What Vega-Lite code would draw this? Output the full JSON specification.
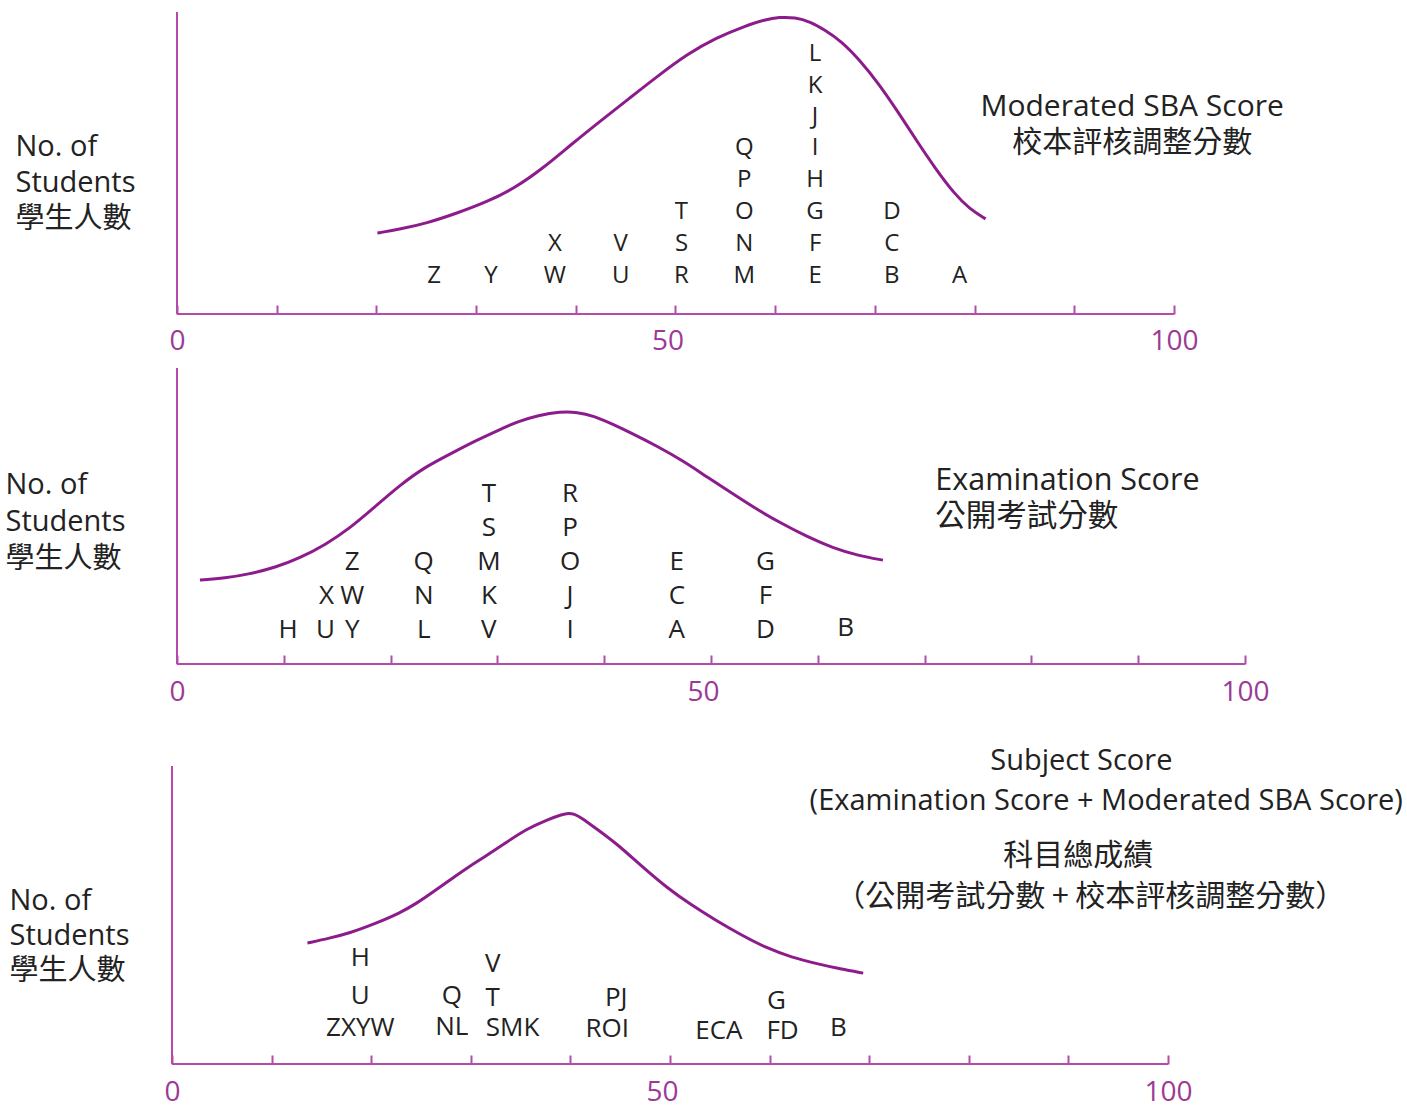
{
  "$schema": "https://vega.github.io/schema/vega-lite/v6.json",
  "padding": {"left": 5, "top": 11, "right": 0, "bottom": 0},
  "background": "white",
  "spacing": 54,
  "bounds": "flush",
  "config": {"view": {"stroke": null}},
  "datasets": {
    "frame": [{"x0": 0, "x1": 100, "y0": 0, "y1": 0}, {"x0": 0, "x1": 0, "y0": 0, "y1": 100}],
    "curve1": [
      {"x": 20.1, "y": 26.8}, {"x": 22.4, "y": 28.1}, {"x": 25.0, "y": 30.0}, {"x": 28.1, "y": 33.4},
      {"x": 31.0, "y": 37.0}, {"x": 33.9, "y": 41.7}, {"x": 36.8, "y": 48.5}, {"x": 39.6, "y": 56.3},
      {"x": 42.5, "y": 64.0}, {"x": 45.4, "y": 71.5}, {"x": 48.3, "y": 79.0}, {"x": 51.2, "y": 86.1},
      {"x": 54.1, "y": 91.5}, {"x": 57.0, "y": 95.4}, {"x": 59.0, "y": 97.5}, {"x": 60.4, "y": 98.3},
      {"x": 62.0, "y": 98.2}, {"x": 63.5, "y": 96.8}, {"x": 65.0, "y": 94.0}, {"x": 66.6, "y": 90.4},
      {"x": 68.5, "y": 84.0}, {"x": 70.4, "y": 76.2}, {"x": 72.3, "y": 67.0}, {"x": 74.2, "y": 57.3},
      {"x": 76.1, "y": 48.0}, {"x": 78.0, "y": 39.7}, {"x": 79.5, "y": 34.8}, {"x": 81.1, "y": 31.5}
    ],
    "letters1": [
      {"t": "Z", "x": 25.8, "y": 12.6}, {"t": "Y", "x": 31.5, "y": 12.6}, {"t": "W", "x": 37.9, "y": 12.6},
      {"t": "U", "x": 44.5, "y": 12.6}, {"t": "R", "x": 50.6, "y": 12.6}, {"t": "M", "x": 56.9, "y": 12.6},
      {"t": "E", "x": 64.0, "y": 12.6}, {"t": "B", "x": 71.7, "y": 12.6}, {"t": "A", "x": 78.5, "y": 12.6},
      {"t": "X", "x": 37.9, "y": 23.2}, {"t": "V", "x": 44.5, "y": 23.2}, {"t": "S", "x": 50.6, "y": 23.2},
      {"t": "N", "x": 56.9, "y": 23.2}, {"t": "F", "x": 64.0, "y": 23.2}, {"t": "C", "x": 71.7, "y": 23.2},
      {"t": "T", "x": 50.6, "y": 33.8}, {"t": "O", "x": 56.9, "y": 33.8}, {"t": "G", "x": 64.0, "y": 33.8},
      {"t": "D", "x": 71.7, "y": 33.8},
      {"t": "P", "x": 56.9, "y": 44.4}, {"t": "H", "x": 64.0, "y": 44.4},
      {"t": "Q", "x": 56.9, "y": 55.0}, {"t": "I", "x": 64.0, "y": 55.0},
      {"t": "J", "x": 64.0, "y": 65.2}, {"t": "K", "x": 64.0, "y": 75.5}, {"t": "L", "x": 64.0, "y": 86.1}
    ],
    "titles1": [
      {"t": "Moderated SBA Score", "x": 95.8, "y": 68.5},
      {"t": "校本評核調整分數", "x": 95.8, "y": 56.6}
    ],
    "curve2": [
      {"x": 2.15, "y": 28.4}, {"x": 4.5, "y": 29.0}, {"x": 6.8, "y": 30.4}, {"x": 9.2, "y": 32.6},
      {"x": 11.5, "y": 35.8}, {"x": 13.9, "y": 40.3}, {"x": 16.2, "y": 45.9}, {"x": 18.5, "y": 53.0},
      {"x": 20.9, "y": 60.5}, {"x": 23.2, "y": 66.5}, {"x": 25.6, "y": 71.0}, {"x": 28.0, "y": 75.5},
      {"x": 30.2, "y": 79.2}, {"x": 32.0, "y": 82.0}, {"x": 33.8, "y": 84.0}, {"x": 35.9, "y": 85.3},
      {"x": 37.5, "y": 85.1}, {"x": 39.0, "y": 83.8}, {"x": 40.8, "y": 81.0}, {"x": 42.7, "y": 77.7},
      {"x": 45.0, "y": 73.5}, {"x": 47.4, "y": 68.6}, {"x": 49.7, "y": 63.0}, {"x": 52.1, "y": 57.4},
      {"x": 54.4, "y": 52.0}, {"x": 56.7, "y": 47.3}, {"x": 59.0, "y": 43.0}, {"x": 61.4, "y": 39.2},
      {"x": 63.8, "y": 36.6}, {"x": 66.1, "y": 35.1}
    ],
    "letters2": [
      {"t": "H", "x": 10.4, "y": 11.5}, {"t": "U", "x": 13.9, "y": 11.5}, {"t": "Y", "x": 16.4, "y": 11.5},
      {"t": "L", "x": 23.1, "y": 11.5}, {"t": "V", "x": 29.2, "y": 11.5}, {"t": "I", "x": 36.8, "y": 11.5},
      {"t": "A", "x": 46.8, "y": 11.5}, {"t": "D", "x": 55.1, "y": 11.5}, {"t": "B", "x": 62.6, "y": 12.2},
      {"t": "X", "x": 14.0, "y": 23.0}, {"t": "W", "x": 16.4, "y": 23.0}, {"t": "N", "x": 23.1, "y": 23.0},
      {"t": "K", "x": 29.2, "y": 23.0}, {"t": "J", "x": 36.8, "y": 23.0}, {"t": "C", "x": 46.8, "y": 23.0},
      {"t": "F", "x": 55.1, "y": 23.0},
      {"t": "Z", "x": 16.4, "y": 34.5}, {"t": "Q", "x": 23.1, "y": 34.5}, {"t": "M", "x": 29.2, "y": 34.5},
      {"t": "O", "x": 36.8, "y": 34.5}, {"t": "E", "x": 46.8, "y": 34.5}, {"t": "G", "x": 55.1, "y": 34.5},
      {"t": "S", "x": 29.2, "y": 45.9}, {"t": "P", "x": 36.8, "y": 45.9},
      {"t": "T", "x": 29.2, "y": 57.4}, {"t": "R", "x": 36.8, "y": 57.4}
    ],
    "titles2": [
      {"t": "Examination Score", "x": 71.0, "y": 61.8},
      {"t": "公開考試分數", "x": 71.0, "y": 49.7}
    ],
    "curve3": [
      {"x": 13.6, "y": 40.6}, {"x": 15.8, "y": 42.2}, {"x": 17.9, "y": 44.0}, {"x": 20.4, "y": 47.1},
      {"x": 22.9, "y": 50.7}, {"x": 24.6, "y": 54.0}, {"x": 26.2, "y": 57.7}, {"x": 28.0, "y": 62.0},
      {"x": 29.9, "y": 66.4}, {"x": 31.2, "y": 69.1}, {"x": 33.4, "y": 74.0}, {"x": 35.6, "y": 78.9},
      {"x": 37.7, "y": 82.0}, {"x": 39.2, "y": 83.8}, {"x": 39.8, "y": 84.2}, {"x": 40.4, "y": 83.9},
      {"x": 41.0, "y": 82.9}, {"x": 42.8, "y": 78.5}, {"x": 44.7, "y": 73.8}, {"x": 47.2, "y": 66.2},
      {"x": 49.7, "y": 59.1}, {"x": 52.2, "y": 53.2}, {"x": 54.7, "y": 48.0}, {"x": 57.2, "y": 43.2},
      {"x": 59.7, "y": 38.9}, {"x": 62.2, "y": 35.8}, {"x": 64.8, "y": 33.6}, {"x": 67.1, "y": 31.9},
      {"x": 69.4, "y": 30.5}
    ],
    "letters3": [
      {"t": "ZXYW", "x": 18.9, "y": 12.1}, {"t": "NL", "x": 28.1, "y": 12.4}, {"t": "SMK", "x": 34.2, "y": 12.1},
      {"t": "ROI", "x": 43.7, "y": 11.7}, {"t": "ECA", "x": 54.9, "y": 11.1}, {"t": "FD", "x": 61.3, "y": 11.1},
      {"t": "B", "x": 66.9, "y": 12.1},
      {"t": "U", "x": 18.9, "y": 22.8}, {"t": "Q", "x": 28.1, "y": 22.8}, {"t": "T", "x": 32.2, "y": 22.1},
      {"t": "PJ", "x": 44.6, "y": 22.1}, {"t": "G", "x": 60.7, "y": 21.1},
      {"t": "H", "x": 18.9, "y": 35.6}, {"t": "V", "x": 32.2, "y": 33.6}
    ],
    "titles3en": [
      {"t": "Subject Score", "x": 91.3, "y": 101.7},
      {"t": "(Examination Score + Moderated SBA Score)", "x": 93.8, "y": 88.3}
    ],
    "titles3zh": [
      {"t": "科目總成績", "x": 91.0, "y": 69.8},
      {"t": "（公開考試分數 + 校本評核調整分數）", "x": 92.2, "y": 56.0}
    ]
  },
  "vconcat": [
    {
      "width": 1002, "height": 302,
      "layer": [
        {
          "data": {"name": "frame"},
          "mark": {"type": "rule", "color": "#B44BAA", "strokeWidth": 2},
          "encoding": {
            "x": {"field": "x0", "type": "quantitative", "scale": {"domain": [-0.5015, 100], "nice": false, "zero": false},
              "axis": {"values": [0, 10, 20, 30, 40, 50, 60, 70, 80, 90, 100], "domain": false, "grid": false, "tickSize": -9, "tickColor": "#B44BAA", "tickWidth": 2,
                "labelExpr": "datum.value % 50 == 0 ? datum.label : ''", "labelFont": "Open Sans", "labelFontSize": 28, "labelColor": "#9C3A96",
                "labelPadding": 22, "labelFlush": false, "labelOverlap": false, "title": null,
                "labelOffset": {"condition": {"test": "datum.value == 50", "value": -8}, "value": 0}}},
            "x2": {"field": "x1"},
            "y": {"field": "y0", "type": "quantitative", "scale": {"domain": [0, 100], "nice": false, "zero": false},
              "axis": {"title": ["No. of", "Students", "學生人數"], "titleAngle": 0, "titleAlign": "left", "titleBaseline": "top",
                "titleX": -157, "titleY": 120, "titleFont": "'Open Sans', 'Noto Sans CJK TC'", "titleFontSize": 29, "titleFontWeight": "normal",
                "titleLineHeight": 36, "titleColor": "#222222", "domain": false, "ticks": false, "labels": false, "grid": false}},
            "y2": {"field": "y1"}
          }
        },
        {
          "data": {"name": "curve1"},
          "mark": {"type": "line", "color": "#8C1C8C", "strokeWidth": 3, "interpolate": "basis"},
          "encoding": {
            "x": {"field": "x", "type": "quantitative", "scale": {"domain": [-0.5015, 100], "nice": false, "zero": false}},
            "y": {"field": "y", "type": "quantitative", "scale": {"domain": [0, 100], "nice": false, "zero": false}}
          }
        },
        {
          "data": {"name": "letters1"},
          "mark": {"type": "text", "font": "Open Sans", "fontSize": 24, "color": "#222222", "baseline": "middle", "align": "center"},
          "encoding": {
            "x": {"field": "x", "type": "quantitative"},
            "y": {"field": "y", "type": "quantitative"},
            "text": {"field": "t"}
          }
        },
        {
          "data": {"name": "titles1"},
          "mark": {"type": "text", "font": "'Open Sans', 'Noto Sans CJK TC'", "fontSize": 30, "color": "#222222", "baseline": "middle", "align": "center"},
          "encoding": {
            "x": {"field": "x", "type": "quantitative"},
            "y": {"field": "y", "type": "quantitative"},
            "text": {"field": "t"}
          }
        }
      ]
    },
    {
      "width": 1073, "height": 296,
      "layer": [
        {
          "data": {"name": "frame"},
          "mark": {"type": "rule", "color": "#B44BAA", "strokeWidth": 2},
          "encoding": {
            "x": {"field": "x0", "type": "quantitative", "scale": {"domain": [-0.468, 100], "nice": false, "zero": false},
              "axis": {"values": [0, 10, 20, 30, 40, 50, 60, 70, 80, 90, 100], "domain": false, "grid": false, "tickSize": -9, "tickColor": "#B44BAA", "tickWidth": 2,
                "labelExpr": "datum.value % 50 == 0 ? datum.label : ''", "labelFont": "Open Sans", "labelFontSize": 28, "labelColor": "#9C3A96",
                "labelPadding": 23, "labelFlush": false, "labelOverlap": false, "title": null,
                "labelOffset": {"condition": {"test": "datum.value == 50", "value": -8}, "value": 0}}},
            "x2": {"field": "x1"},
            "y": {"field": "y0", "type": "quantitative", "scale": {"domain": [0, 100], "nice": false, "zero": false},
              "axis": {"title": ["No. of", "Students", "學生人數"], "titleAngle": 0, "titleAlign": "left", "titleBaseline": "top",
                "titleX": -167, "titleY": 102, "titleFont": "'Open Sans', 'Noto Sans CJK TC'", "titleFontSize": 29, "titleFontWeight": "normal",
                "titleLineHeight": 37, "titleColor": "#222222", "domain": false, "ticks": false, "labels": false, "grid": false}},
            "y2": {"field": "y1"}
          }
        },
        {
          "data": {"name": "curve2"},
          "mark": {"type": "line", "color": "#8C1C8C", "strokeWidth": 3, "interpolate": "basis"},
          "encoding": {
            "x": {"field": "x", "type": "quantitative", "scale": {"domain": [-0.468, 100], "nice": false, "zero": false}},
            "y": {"field": "y", "type": "quantitative", "scale": {"domain": [0, 100], "nice": false, "zero": false}}
          }
        },
        {
          "data": {"name": "letters2"},
          "mark": {"type": "text", "font": "Open Sans", "fontSize": 26, "color": "#222222", "baseline": "middle", "align": "center"},
          "encoding": {
            "x": {"field": "x", "type": "quantitative"},
            "y": {"field": "y", "type": "quantitative"},
            "text": {"field": "t"}
          }
        },
        {
          "data": {"name": "titles2"},
          "mark": {"type": "text", "font": "'Open Sans', 'Noto Sans CJK TC'", "fontSize": 30.5, "color": "#222222", "baseline": "middle", "align": "left"},
          "encoding": {
            "x": {"field": "x", "type": "quantitative"},
            "y": {"field": "y", "type": "quantitative"},
            "text": {"field": "t"}
          }
        }
      ]
    },
    {
      "width": 996, "height": 346,
      "layer": [
        {
          "data": {"name": "frame"},
          "mark": {"type": "rule", "color": "#B44BAA", "strokeWidth": 2},
          "encoding": {
            "x": {"field": "x0", "type": "quantitative", "scale": {"domain": [0, 100], "nice": false, "zero": false},
              "axis": {"values": [0, 10, 20, 30, 40, 50, 60, 70, 80, 90, 100], "domain": false, "grid": false, "tickSize": -9, "tickColor": "#B44BAA", "tickWidth": 2,
                "labelExpr": "datum.value % 50 == 0 ? datum.label : ''", "labelFont": "Open Sans", "labelFontSize": 28, "labelColor": "#9C3A96",
                "labelPadding": 23, "labelFlush": false, "labelOverlap": false, "title": null,
                "labelOffset": {"condition": {"test": "datum.value == 50", "value": -8}, "value": 0}}},
            "x2": {"field": "x1"},
            "y": {"field": "y0", "type": "quantitative", "scale": {"domain": [0, 116.107], "nice": false, "zero": false},
              "axis": {"title": ["No. of", "Students", "學生人數"], "titleAngle": 0, "titleAlign": "left", "titleBaseline": "top",
                "titleX": -163, "titleY": 168, "titleFont": "'Open Sans', 'Noto Sans CJK TC'", "titleFontSize": 29, "titleFontWeight": "normal",
                "titleLineHeight": 35, "titleColor": "#222222", "domain": false, "ticks": false, "labels": false, "grid": false}},
            "y2": {"field": "y1"}
          }
        },
        {
          "data": {"name": "curve3"},
          "mark": {"type": "line", "color": "#8C1C8C", "strokeWidth": 3, "interpolate": "basis"},
          "encoding": {
            "x": {"field": "x", "type": "quantitative", "scale": {"domain": [0, 100], "nice": false, "zero": false}},
            "y": {"field": "y", "type": "quantitative", "scale": {"domain": [0, 116.107], "nice": false, "zero": false}}
          }
        },
        {
          "data": {"name": "letters3"},
          "mark": {"type": "text", "font": "Open Sans", "fontSize": 26, "color": "#222222", "baseline": "middle", "align": "center"},
          "encoding": {
            "x": {"field": "x", "type": "quantitative"},
            "y": {"field": "y", "type": "quantitative"},
            "text": {"field": "t"}
          }
        },
        {
          "data": {"name": "titles3en"},
          "mark": {"type": "text", "font": "Open Sans", "fontSize": 29, "color": "#222222", "baseline": "middle", "align": "center"},
          "encoding": {
            "x": {"field": "x", "type": "quantitative"},
            "y": {"field": "y", "type": "quantitative"},
            "text": {"field": "t"}
          }
        },
        {
          "data": {"name": "titles3zh"},
          "mark": {"type": "text", "font": "'Noto Sans CJK TC'", "fontSize": 30, "color": "#222222", "baseline": "middle", "align": "center"},
          "encoding": {
            "x": {"field": "x", "type": "quantitative"},
            "y": {"field": "y", "type": "quantitative"},
            "text": {"field": "t"}
          }
        }
      ]
    }
  ]
}
